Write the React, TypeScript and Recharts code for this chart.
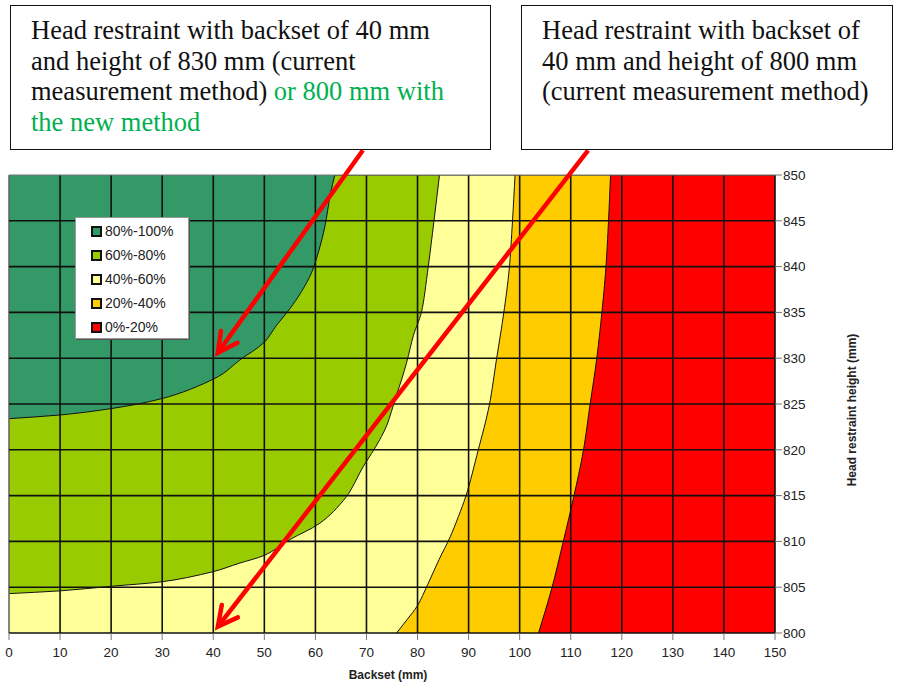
import React from "react";
import { ComposedChart, Area, XAxis, YAxis, ReferenceLine } from "recharts";

// axis ticks
const backsetTicks = [0, 10, 20, 30, 40, 50, 60, 70, 80, 90, 100, 110, 120, 130, 140, 150];
const heightTicks = [800, 805, 810, 815, 820, 825, 830, 835, 840, 845, 850];

// upper edge of each band (backset b, height h)
const edge80 = [
  { b: 0, h: 823.4 },
  { b: 10, h: 823.8 },
  { b: 20, h: 824.5 },
  { b: 30, h: 825.6 },
  { b: 41, h: 828.0 },
  { b: 45.2, h: 829.8 },
  { b: 50.1, h: 831.8 },
  { b: 52.4, h: 833.6 },
  { b: 55, h: 835.4 },
  { b: 57.3, h: 837.3 },
  { b: 59.3, h: 839.4 },
  { b: 60.6, h: 841.6 },
  { b: 61.9, h: 844.5 },
  { b: 62.9, h: 847.8 },
  { b: 63.8, h: 850 },
];
const edge60 = [
  { b: 0, h: 804.3 },
  { b: 10, h: 804.6 },
  { b: 20, h: 805.1 },
  { b: 30, h: 805.6 },
  { b: 40, h: 806.7 },
  { b: 45, h: 807.6 },
  { b: 50.1, h: 808.5 },
  { b: 55, h: 810.2 },
  { b: 60.9, h: 812.0 },
  { b: 66.1, h: 814.9 },
  { b: 69.4, h: 818.2 },
  { b: 71, h: 819.6 },
  { b: 72.6, h: 821.1 },
  { b: 74, h: 822.7 },
  { b: 74.9, h: 824.2 },
  { b: 75.9, h: 826 },
  { b: 76.9, h: 827.7 },
  { b: 77.9, h: 829.6 },
  { b: 79.2, h: 832.5 },
  { b: 80.8, h: 835.1 },
  { b: 82.1, h: 840 },
  { b: 83.2, h: 844.9 },
  { b: 84.3, h: 850 },
];
const edge40 = [
  { b: 75.9, h: 800 },
  { b: 78, h: 801.5 },
  { b: 80, h: 803 },
  { b: 82, h: 805.3 },
  { b: 84.2, h: 808 },
  { b: 86.4, h: 810.5 },
  { b: 88, h: 812.7 },
  { b: 89.5, h: 815 },
  { b: 91.9, h: 820 },
  { b: 94.1, h: 825 },
  { b: 95.5, h: 830 },
  { b: 96.9, h: 835 },
  { b: 98, h: 840 },
  { b: 98.6, h: 845 },
  { b: 99.1, h: 850 },
];
const edge20 = [
  { b: 103.7, h: 800 },
  { b: 106.3, h: 804.9 },
  { b: 108.5, h: 809.9 },
  { b: 110.6, h: 814.9 },
  { b: 112.5, h: 820 },
  { b: 113.8, h: 825 },
  { b: 115.1, h: 830 },
  { b: 116.1, h: 835 },
  { b: 116.9, h: 840 },
  { b: 117.4, h: 845 },
  { b: 117.8, h: 850 },
];

const bandNames = ["80%-100%", "60%-80%", "40%-60%", "20%-40%", "0%-20%"];
const bandColors = ["#339966", "#99cc00", "#ffff99", "#ffcc00", "#ff0000"];
// band i+1 lies below edges[i]
const bandEdges = [edge80, edge60, edge40, edge20];

// arrows: [tail, head] in (backset, height)
const arrows = [
  [{ b: 69.3, h: 852.7 }, { b: 40.9, h: 830.6 }],
  [{ b: 113.4, h: 852.7 }, { b: 40.9, h: 800.7 }],
];

// smooth monotone curve, but flat runs stay straight with a sharp corner
const bandCurve = (ctx: any) => {
  let pts: number[][] = [];
  let line = NaN;
  const draw = () => {
    const n = pts.length;
    if (!n) return;
    if (line) ctx.lineTo(pts[0][0], pts[0][1]);
    else ctx.moveTo(pts[0][0], pts[0][1]);
    const flat = (i: number) => Math.abs(pts[i + 1][1] - pts[i][1]) < 1e-6;
    const slope = (i: number) => {
      const dx = pts[i + 1][0] - pts[i][0];
      return dx ? (pts[i + 1][1] - pts[i][1]) / dx : 0;
    };
    const tangent = (i: number) => {
      const l = i > 0 && !flat(i - 1) ? slope(i - 1) : null;
      const r = i < n - 1 && !flat(i) ? slope(i) : null;
      if (l === null && r === null) return 0;
      if (l === null) return r as number;
      if (r === null) return l;
      if (l * r <= 0) return 0;
      return (2 * l * r) / (l + r);
    };
    for (let i = 0; i < n - 1; i++) {
      const [xa, ya] = pts[i];
      const [xb, yb] = pts[i + 1];
      if (flat(i)) {
        ctx.lineTo(xb, yb);
      } else {
        const h = (xb - xa) / 3;
        const ta = tangent(i);
        const tb = tangent(i + 1);
        ctx.bezierCurveTo(xa + h, ya + ta * h, xb - h, yb - tb * h, xb, yb);
      }
    }
  };
  return {
    areaStart() {
      line = 0;
    },
    areaEnd() {
      line = NaN;
    },
    lineStart() {
      pts = [];
    },
    point(x: number, y: number) {
      pts.push([+x, +y]);
    },
    lineEnd() {
      draw();
      if (line || (line !== 0 && pts.length === 1)) ctx.closePath();
      line = 1 - line;
    },
  };
};

const arrowShape = (p: any) => {
  const { x1, y1, x2, y2 } = p;
  const ang = Math.atan2(y2 - y1, x2 - x1);
  const len = 22;
  const w = 0.48;
  const ax = x2 - len * Math.cos(ang - w);
  const ay = y2 - len * Math.sin(ang - w);
  const bx = x2 - len * Math.cos(ang + w);
  const by = y2 - len * Math.sin(ang + w);
  return (
    <g>
      <line x1={x1} y1={y1} x2={x2} y2={y2} stroke="#ff0000" strokeWidth={4.5} />
      <polyline
        points={`${ax},${ay} ${x2},${y2} ${bx},${by}`}
        fill="none"
        stroke="#ff0000"
        strokeWidth={4.5}
        strokeLinecap="round"
      />
    </g>
  );
};

const tickFont = { fontSize: 13.5, fill: "#222", fontFamily: "Liberation Sans, Arial, sans-serif" };

const boxStyle: React.CSSProperties = {
  position: "absolute",
  top: 5,
  height: 145,
  boxSizing: "border-box",
  border: "1.5px solid #111",
  background: "#fff",
  fontFamily: "Liberation Serif, Times New Roman, serif",
  fontSize: 26.5,
  lineHeight: "30.7px",
  color: "#111",
  paddingTop: 9,
  paddingLeft: 20,
  whiteSpace: "nowrap",
};

export default function App() {
  return (
    <div style={{ position: "relative", width: 898, height: 684, background: "#fff" }}>
      <style>{`body{margin:0}`}</style>
      <ComposedChart
        width={898}
        height={684}
        margin={{ top: 175, left: 9, right: 83, bottom: 0 }}
      >
        <XAxis
          type="number"
          dataKey="b"
          domain={[0, 150]}
          ticks={backsetTicks}
          allowDataOverflow
          axisLine={false}
          tickLine={{ stroke: "#777" }}
          tickSize={7}
          tickMargin={7}
          tick={tickFont}
          height={51}
          interval={0}
        />
        <YAxis
          type="number"
          dataKey="h"
          orientation="right"
          domain={[800, 850]}
          ticks={heightTicks}
          allowDataOverflow
          axisLine={false}
          tickLine={{ stroke: "#777" }}
          tickSize={7}
          tickMargin={1}
          tick={tickFont}
          width={40}
          interval={0}
        />
        {/* top band fills the whole plot */}
        <Area
          data={[
            { b: 0, h: 850 },
            { b: 150, h: 850 },
          ]}
          dataKey="h"
          type="linear"
          baseValue="dataMin"
          fill={bandColors[0]}
          fillOpacity={1}
          stroke="none"
          isAnimationActive={false}
          dot={false}
          activeDot={false}
        />
        {bandEdges.map((edge, i) => (
          <Area
            key={bandNames[i + 1]}
            data={[...edge, { b: 150, h: 850 }]}
            dataKey="h"
            type={bandCurve as any}
            baseValue="dataMin"
            fill={bandColors[i + 1]}
            fillOpacity={1}
            stroke="#111"
            strokeWidth={1}
            isAnimationActive={false}
            dot={false}
            activeDot={false}
          />
        ))}
        {backsetTicks.map((t) => (
          <ReferenceLine
            key={"x" + t}
            x={t}
            stroke={t === 0 ? "#666" : "#111"}
            strokeWidth={1.6}
          />
        ))}
        {heightTicks.map((t) => (
          <ReferenceLine
            key={"y" + t}
            y={t}
            stroke={t === 850 ? "#777" : "#111"}
            strokeWidth={t === 850 ? 1.2 : 1.6}
          />
        ))}
        {arrows.map((a, i) => (
          <ReferenceLine
            key={"arrow" + i}
            segment={[
              { x: a[0].b, y: a[0].h },
              { x: a[1].b, y: a[1].h },
            ]}
            ifOverflow="visible"
            shape={arrowShape}
          />
        ))}
      </ComposedChart>

      {/* legend */}
      <div
        style={{
          position: "absolute",
          left: 75,
          top: 217,
          width: 114,
          height: 122,
          boxSizing: "border-box",
          background: "#fff",
          border: "1px solid #999",
          boxShadow: "1px 1px 0 #555",
          paddingTop: 1,
          paddingLeft: 15,
          fontFamily: "Liberation Sans, Arial, sans-serif",
          fontSize: 14,
          color: "#222",
        }}
      >
        {bandNames.map((n, i) => (
          <div key={n} style={{ display: "flex", alignItems: "center", height: 24 }}>
            <span
              style={{
                display: "inline-block",
                width: 7,
                height: 7,
                border: "2px solid #111",
                background: bandColors[i],
                marginRight: 3,
              }}
            />
            {n}
          </div>
        ))}
      </div>

      {/* axis titles */}
      <div
        style={{
          position: "absolute",
          left: 388,
          top: 668,
          transform: "translateX(-50%)",
          fontFamily: "Liberation Sans, Arial, sans-serif",
          fontWeight: "bold",
          fontSize: 12,
          color: "#222",
          whiteSpace: "nowrap",
        }}
      >
        Backset (mm)
      </div>
      <div
        style={{
          position: "absolute",
          left: 852,
          top: 410,
          transform: "translate(-50%, -50%) rotate(-90deg)",
          fontFamily: "Liberation Sans, Arial, sans-serif",
          fontWeight: "bold",
          fontSize: 12,
          color: "#222",
          whiteSpace: "nowrap",
        }}
      >
        Head restraint height (mm)
      </div>

      {/* annotation boxes */}
      <div style={{ ...boxStyle, left: 10, width: 481 }}>
        Head restraint with backset of 40 mm
        <br />
        and height of 830 mm (current
        <br />
        measurement method) <span style={{ color: "#00b050" }}>or 800 mm with</span>
        <br />
        <span style={{ color: "#00b050" }}>the new method</span>
      </div>
      <div style={{ ...boxStyle, left: 521, width: 372 }}>
        Head restraint with backset of
        <br />
        40 mm and height of 800 mm
        <br />
        (current measurement method)
      </div>
    </div>
  );
}
